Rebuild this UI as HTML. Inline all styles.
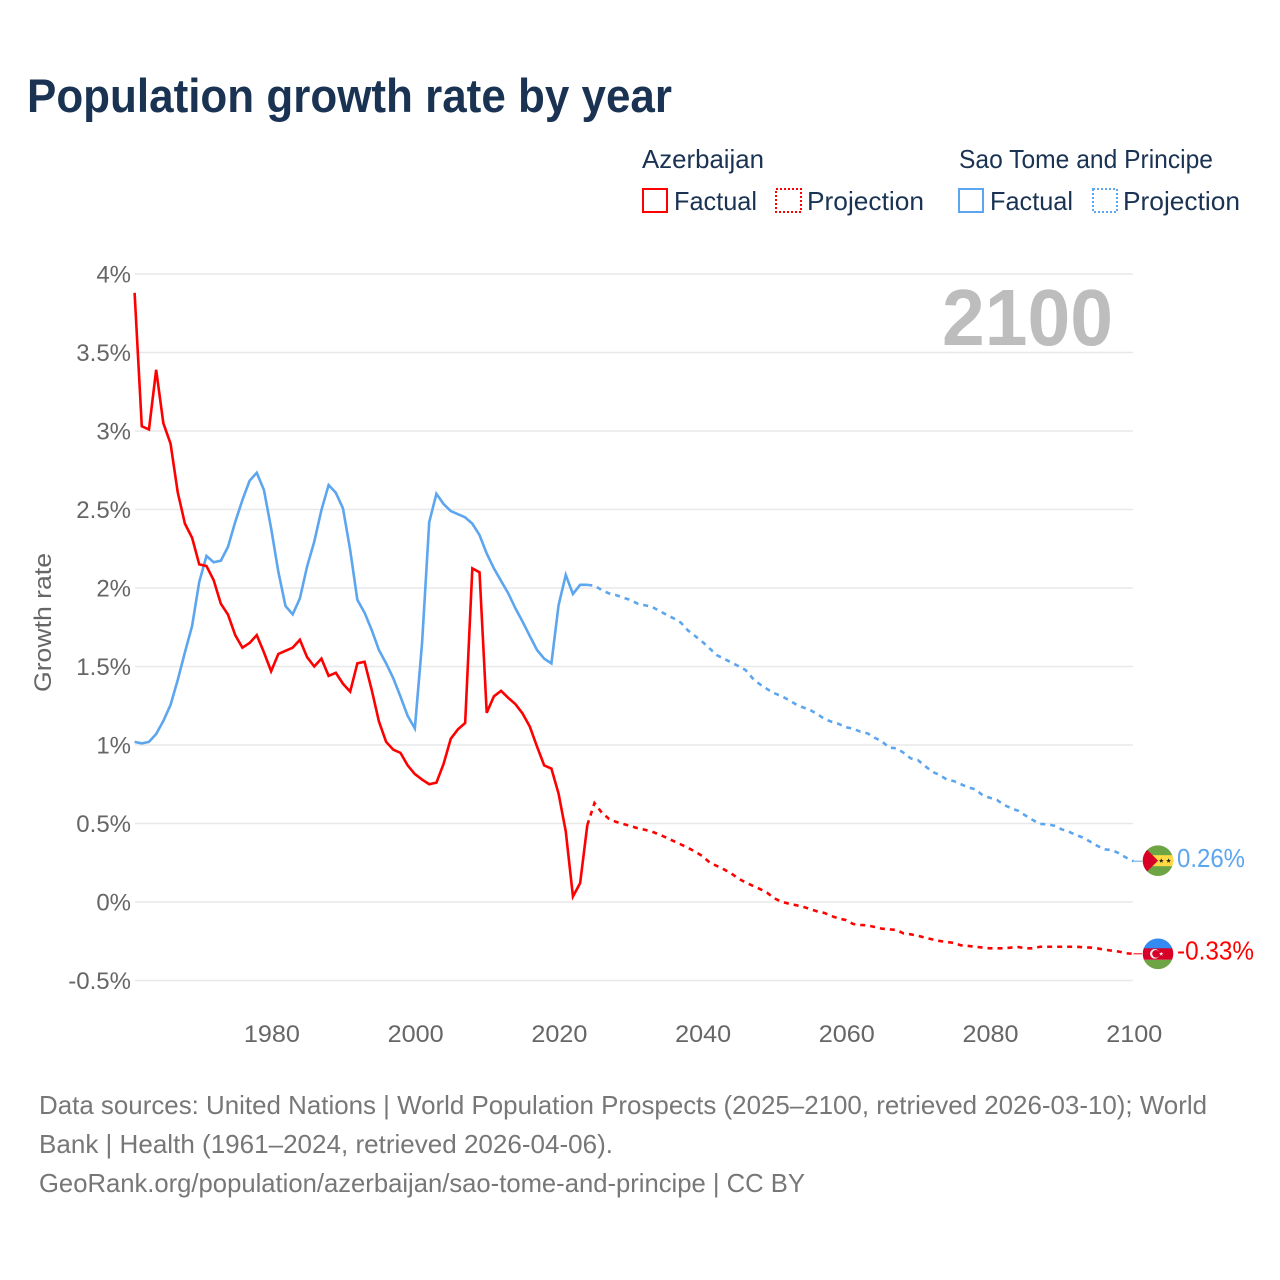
<!DOCTYPE html>
<html lang="en">
<head>
<meta charset="utf-8">
<title>Population growth rate by year</title>
<style>
html,body{margin:0;padding:0;background:#fff;}
svg{display:block;font-family:"Liberation Sans",sans-serif;}
</style>
</head>
<body>
<svg id="chart" xmlns="http://www.w3.org/2000/svg" width="1280" height="1280" viewBox="0 0 1280 1280">
  <rect x="0" y="0" width="1280" height="1280" fill="#fff"/>
  <text x="27" y="112" font-size="47" font-weight="700" fill="#1a3353" textLength="645" lengthAdjust="spacingAndGlyphs">Population growth rate by year</text>

  <g fill="#1a3353" font-size="26">
    <text x="642" y="168" textLength="122" lengthAdjust="spacingAndGlyphs">Azerbaijan</text>
    <text x="959" y="168" textLength="254" lengthAdjust="spacingAndGlyphs">Sao Tome and Principe</text>
    <rect x="643" y="189" width="24" height="23" fill="none" stroke="#ff0000" stroke-width="2"/>
    <text x="674" y="210" textLength="83" lengthAdjust="spacingAndGlyphs">Factual</text>
    <rect x="776" y="189" width="25" height="23" fill="none" stroke="#ff0000" stroke-width="2" stroke-dasharray="2 2"/>
    <text x="807" y="210" textLength="117" lengthAdjust="spacingAndGlyphs">Projection</text>
    <rect x="959" y="189" width="24" height="23" fill="none" stroke="#5ca5ef" stroke-width="2"/>
    <text x="990" y="210" textLength="83" lengthAdjust="spacingAndGlyphs">Factual</text>
    <rect x="1093" y="189" width="24" height="23" fill="none" stroke="#5ca5ef" stroke-width="2" stroke-dasharray="2 2"/>
    <text x="1123" y="210" textLength="117" lengthAdjust="spacingAndGlyphs">Projection</text>
  </g>

  <g id="grid"></g>
  <g id="yticks" font-size="24" fill="#666" text-anchor="end"></g>
  <g id="xticks" font-size="24" fill="#666" text-anchor="middle"></g>

  <text transform="translate(51,692) rotate(-90)" font-size="24" fill="#666" textLength="139" lengthAdjust="spacingAndGlyphs">Growth rate</text>
  <text id="yearLabel" x="942" y="345" font-size="80" font-weight="700" fill="#bdbdbd" textLength="171" lengthAdjust="spacingAndGlyphs">2100</text>

  <g id="series"></g>

  <defs>
    <clipPath id="flagClip"><circle cx="0" cy="0" r="15.3"/></clipPath>
  </defs>

  <g id="flagStp" clip-path="url(#flagClip)">
    <rect x="-16" y="-16" width="32" height="32" fill="#6da544"/>
    <rect x="-16" y="-5.5" width="32" height="11" fill="#ffda44"/>
    <polygon points="-16,-16 0,0 -16,16" fill="#d80027"/>
    <polygon transform="translate(3.3,0)" points="0,-2.4 0.7,-0.7 2.4,-0.7 1,0.4 1.5,2.2 0,1.1 -1.5,2.2 -1,0.4 -2.4,-0.7 -0.7,-0.7" fill="#222"/>
    <polygon transform="translate(10.6,0)" points="0,-2.4 0.7,-0.7 2.4,-0.7 1,0.4 1.5,2.2 0,1.1 -1.5,2.2 -1,0.4 -2.4,-0.7 -0.7,-0.7" fill="#222"/>
  </g>
  <g id="flagAze" clip-path="url(#flagClip)">
    <rect x="-16" y="-16" width="32" height="11" fill="#338af3"/>
    <rect x="-16" y="-5.5" width="32" height="11.5" fill="#d80027"/>
    <rect x="-16" y="6" width="32" height="10" fill="#6da544"/>
    <circle cx="-3.2" cy="0" r="4.8" fill="#f0f0f0"/>
    <circle cx="-2" cy="0" r="3.8" fill="#d80027"/>
    <polygon transform="translate(3.2,0)" points="0,-2.2 0.6,-0.7 2.2,-0.7 0.9,0.4 1.4,2 0,1 -1.4,2 -0.9,0.4 -2.2,-0.7 -0.6,-0.7" fill="#f0f0f0"/>
  </g>
  <text id="endStp" x="1177" font-size="26" fill="#5ca5ef" textLength="68" lengthAdjust="spacingAndGlyphs"></text>
  <text id="endAze" x="1177" font-size="26" fill="#ff0000" textLength="77" lengthAdjust="spacingAndGlyphs"></text>

  <g font-size="26" fill="#777">
    <text x="39" y="1114" textLength="1168" lengthAdjust="spacingAndGlyphs">Data sources: United Nations | World Population Prospects (2025–2100, retrieved 2026-03-10); World</text>
    <text x="39" y="1153" textLength="574" lengthAdjust="spacingAndGlyphs">Bank | Health (1961–2024, retrieved 2026-04-06).</text>
    <text x="39" y="1192" textLength="766" lengthAdjust="spacingAndGlyphs">GeoRank.org/population/azerbaijan/sao-tome-and-principe | CC BY</text>
  </g>
</svg>

<script>
const firstYear = 1961;
const factualLastYear = 2024;
const yTickValues = [4, 3.5, 3, 2.5, 2, 1.5, 1, 0.5, 0, -0.5];
const yTickLabels = ["4%", "3.5%", "3%", "2.5%", "2%", "1.5%", "1%", "0.5%", "0%", "-0.5%"];
const xTickYears = [1980, 2000, 2020, 2040, 2060, 2080, 2100];
const xTickLabels = ["1980", "2000", "2020", "2040", "2060", "2080", "2100"];
const endLabelStp = "0.26%";
const endLabelAze = "-0.33%";

// Azerbaijan, 1961-2100 (annual %)
const azerbaijanRates = [
  3.88,3.03,3.01,3.39,3.05,2.92,2.61,2.41,2.32,2.15,
  2.14,2.05,1.90,1.83,1.70,1.62,1.65,1.70,1.59,1.47,
  1.58,1.60,1.62,1.67,1.56,1.50,1.55,1.44,1.46,1.39,
  1.34,1.52,1.53,1.35,1.15,1.02,0.97,0.95,0.87,0.815,
  0.78,0.75,0.76,0.88,1.04,1.10,1.14,2.125,2.10,1.205,
  1.31,1.345,1.30,1.26,1.20,1.117,0.99,0.87,0.85,0.69,
  0.45,0.035,0.12,0.49,
  0.63,0.57,0.53,0.51,0.497,0.484,0.47,0.46,0.448,0.43,
  0.41,0.388,0.367,0.346,0.32,0.293,0.253,0.23,0.208,0.183,
  0.15,0.125,0.104,0.083,0.06,0.024,0.002,-0.01,-0.02,-0.03,
  -0.045,-0.06,-0.07,-0.09,-0.105,-0.115,-0.14,-0.146,-0.149,-0.159,
  -0.17,-0.174,-0.178,-0.20,-0.206,-0.215,-0.227,-0.238,-0.248,-0.255,
  -0.26,-0.276,-0.28,-0.285,-0.29,-0.295,-0.295,-0.295,-0.29,-0.287,
  -0.295,-0.295,-0.285,-0.285,-0.285,-0.285,-0.285,-0.285,-0.288,-0.29,
  -0.296,-0.304,-0.31,-0.316,-0.327,-0.33
];

// Sao Tome and Principe, 1961-2100 (annual %)
const saoTomeRates = [
  1.02,1.01,1.02,1.07,1.153,1.255,1.414,1.59,1.758,2.04,
  2.204,2.164,2.174,2.263,2.42,2.56,2.683,2.734,2.624,2.38,
  2.104,1.885,1.832,1.934,2.136,2.295,2.497,2.656,2.607,2.507,
  2.242,1.924,1.843,1.732,1.605,1.52,1.425,1.308,1.185,1.106,
  1.647,2.42,2.60,2.535,2.49,2.47,2.45,2.41,2.337,2.22,
  2.125,2.045,1.966,1.87,1.785,1.694,1.605,1.55,1.52,1.89,
  2.083,1.962,2.02,2.02,
  2.015,1.987,1.966,1.955,1.938,1.924,1.90,1.89,1.88,1.855,
  1.83,1.807,1.78,1.73,1.694,1.658,1.616,1.573,1.55,1.527,
  1.503,1.478,1.425,1.387,1.357,1.33,1.312,1.287,1.26,1.24,
  1.223,1.197,1.166,1.148,1.134,1.113,1.104,1.085,1.074,1.046,
  1.023,0.983,0.979,0.951,0.915,0.904,0.866,0.83,0.809,0.781,
  0.77,0.75,0.73,0.718,0.68,0.664,0.65,0.618,0.597,0.58,
  0.55,0.522,0.497,0.495,0.486,0.463,0.448,0.427,0.41,0.384,
  0.357,0.335,0.331,0.31,0.282,0.26
];

const NS = "http://www.w3.org/2000/svg";
function xScale(year) { return 134.6 + (year - firstYear) * 7.186; }
function yScale(v) { return 902 - v * 157; }
function make(tag, attrs, parent) {
  const el = document.createElementNS(NS, tag);
  for (const k in attrs) el.setAttribute(k, attrs[k]);
  parent.appendChild(el);
  return el;
}

const grid = document.getElementById("grid");
const yticks = document.getElementById("yticks");
yTickValues.forEach(function (v, i) {
  const line = make("line", { x1: 135, x2: 1133, y1: yScale(v), y2: yScale(v), stroke: "#e8e8e8", "stroke-width": 1.5 }, grid);
  
  
  const t = make("text", { x: 131, y: yScale(v) + 8.5 }, yticks);
  t.textContent = yTickLabels[i];
  
  
});

const xticks = document.getElementById("xticks");
xTickYears.forEach(function (yr, i) {
  const t = make("text", { x: xScale(yr) + 0.8, y: 1042, textLength: 56, lengthAdjust: "spacingAndGlyphs" }, xticks);
  t.textContent = xTickLabels[i];
  
  
});

function pointsFor(values, fromYear, toYear) {
  const pts = [];
  values.forEach(function (v, i) {
    const yr = firstYear + i;
    if (yr >= fromYear && yr <= toYear) pts.push(xScale(yr).toFixed(2) + "," + yScale(v).toFixed(2));
  });
  return pts.join(" ");
}

const seriesGroup = document.getElementById("series");
const lastYear = firstYear + azerbaijanRates.length - 1;

const stpProj = make("polyline", { points: pointsFor(saoTomeRates, factualLastYear, lastYear), fill: "none", stroke: "#5ca5ef", "stroke-width": 2.6, "stroke-dasharray": "5 5" }, seriesGroup);


const stpFact = make("polyline", { points: pointsFor(saoTomeRates, firstYear, factualLastYear), fill: "none", stroke: "#5ca5ef", "stroke-width": 2.6 }, seriesGroup);


const azeProj = make("polyline", { points: pointsFor(azerbaijanRates, factualLastYear, lastYear), fill: "none", stroke: "#ff0000", "stroke-width": 2.6, "stroke-dasharray": "5 5" }, seriesGroup);


const azeFact = make("polyline", { points: pointsFor(azerbaijanRates, firstYear, factualLastYear), fill: "none", stroke: "#ff0000", "stroke-width": 2.6 }, seriesGroup);



const stpEndY = yScale(saoTomeRates[saoTomeRates.length - 1]);
const azeEndY = yScale(azerbaijanRates[azerbaijanRates.length - 1]);

const stpStub = make("line", { x1: xScale(lastYear), x2: 1142, y1: stpEndY, y2: stpEndY, stroke: "#5ca5ef", "stroke-width": 1 }, seriesGroup);


const azeStub = make("line", { x1: xScale(lastYear), x2: 1142, y1: azeEndY, y2: azeEndY, stroke: "#ff0000", "stroke-width": 1 }, seriesGroup);



document.getElementById("flagStp").setAttribute("transform", "translate(1158," + (stpEndY - 0.5) + ")");
document.getElementById("flagAze").setAttribute("transform", "translate(1158," + azeEndY + ")");
const endStp = document.getElementById("endStp");
endStp.setAttribute("y", stpEndY + 6);
endStp.textContent = endLabelStp;
const endAze = document.getElementById("endAze");
endAze.setAttribute("y", azeEndY + 5.5);
endAze.textContent = endLabelAze;
</script>
</body>
</html>
